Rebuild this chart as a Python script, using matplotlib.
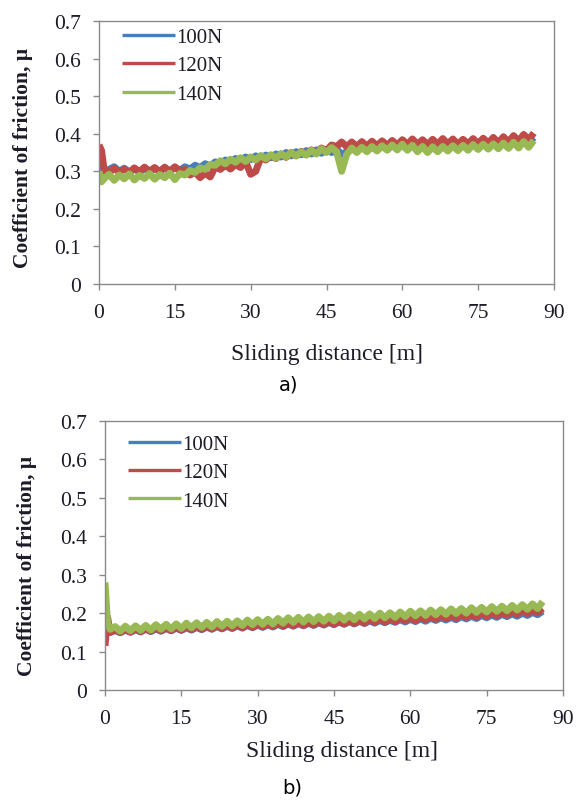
import numpy as np
import matplotlib
matplotlib.use("Agg")
import matplotlib.pyplot as plt

# ---------------- data ----------------
dist = [0, 0.5] + list(range(1, 87))  # sliding distance samples [m]

labels = ["100N", "120N", "140N"]
colors = ["#4a7ebb", "#be4b48", "#98b954"]

# panel a)
a_100 = [0.335, 0.300, 0.300, 0.305, 0.312, 0.300, 0.308, 0.298, 0.306, 0.298,
         0.307, 0.299, 0.306, 0.300, 0.308, 0.301, 0.309, 0.303, 0.312, 0.306,
         0.316, 0.310, 0.320, 0.314, 0.325, 0.320, 0.330, 0.324, 0.334, 0.328,
         0.338, 0.331, 0.341, 0.334, 0.343, 0.336, 0.346, 0.338, 0.350, 0.341,
         0.352, 0.344, 0.355, 0.346, 0.357, 0.348, 0.358, 0.350, 0.360, 0.345,
         0.352, 0.362, 0.354, 0.364, 0.355, 0.365, 0.356, 0.367, 0.358, 0.369,
         0.359, 0.371, 0.360, 0.372, 0.361, 0.373, 0.362, 0.374, 0.363, 0.376,
         0.364, 0.377, 0.366, 0.379, 0.367, 0.380, 0.368, 0.382, 0.370, 0.383,
         0.371, 0.385, 0.372, 0.386, 0.373, 0.388, 0.375, 0.390]
a_120 = [0.370, 0.355, 0.305, 0.296, 0.308, 0.298, 0.306, 0.297, 0.309, 0.299,
         0.311, 0.300, 0.310, 0.299, 0.311, 0.300, 0.312, 0.301, 0.305, 0.290,
         0.298, 0.283, 0.295, 0.285, 0.312, 0.305, 0.316, 0.306, 0.318, 0.310,
         0.326, 0.292, 0.300, 0.336, 0.330, 0.342, 0.334, 0.346, 0.337, 0.350,
         0.341, 0.353, 0.344, 0.357, 0.348, 0.362, 0.355, 0.370, 0.366, 0.378,
         0.365, 0.378, 0.366, 0.379, 0.367, 0.380, 0.368, 0.381, 0.369, 0.382,
         0.370, 0.384, 0.372, 0.386, 0.372, 0.384, 0.371, 0.385, 0.372, 0.387,
         0.373, 0.386, 0.372, 0.385, 0.373, 0.387, 0.374, 0.388, 0.375, 0.390,
         0.376, 0.392, 0.378, 0.395, 0.380, 0.398, 0.384, 0.402]
a_140 = [0.300, 0.272, 0.280, 0.292, 0.276, 0.290, 0.280, 0.293, 0.277, 0.289,
         0.281, 0.294, 0.279, 0.291, 0.283, 0.295, 0.278, 0.294, 0.290, 0.302,
         0.297, 0.309, 0.305, 0.318, 0.316, 0.328, 0.320, 0.332, 0.324, 0.336,
         0.326, 0.338, 0.330, 0.342, 0.333, 0.344, 0.335, 0.347, 0.338, 0.350,
         0.341, 0.352, 0.343, 0.356, 0.346, 0.360, 0.350, 0.363, 0.352, 0.300,
         0.345, 0.362, 0.350, 0.364, 0.352, 0.366, 0.354, 0.368, 0.356, 0.370,
         0.357, 0.372, 0.356, 0.369, 0.352, 0.366, 0.350, 0.365, 0.352, 0.366,
         0.354, 0.368, 0.355, 0.369, 0.356, 0.371, 0.358, 0.372, 0.359, 0.373,
         0.360, 0.375, 0.361, 0.377, 0.362, 0.379, 0.364, 0.382]

# panel b)
b_100 = [0.140, 0.165, 0.150, 0.155, 0.149, 0.156, 0.150, 0.157, 0.151, 0.158,
         0.152, 0.159, 0.153, 0.160, 0.154, 0.161, 0.155, 0.162, 0.156, 0.163,
         0.157, 0.164, 0.158, 0.165, 0.159, 0.166, 0.160, 0.167, 0.161, 0.168,
         0.162, 0.169, 0.163, 0.170, 0.164, 0.171, 0.165, 0.172, 0.166, 0.173,
         0.167, 0.174, 0.168, 0.175, 0.169, 0.176, 0.170, 0.177, 0.171, 0.178,
         0.172, 0.179, 0.173, 0.180, 0.174, 0.181, 0.175, 0.182, 0.176, 0.183,
         0.177, 0.184, 0.178, 0.185, 0.179, 0.187, 0.181, 0.188, 0.182, 0.189,
         0.183, 0.191, 0.185, 0.192, 0.186, 0.194, 0.188, 0.195, 0.189, 0.197,
         0.191, 0.198, 0.192, 0.200, 0.194, 0.202, 0.196, 0.205]
b_120 = [0.115, 0.190, 0.150, 0.156, 0.150, 0.158, 0.151, 0.159, 0.152, 0.160,
         0.153, 0.161, 0.154, 0.162, 0.155, 0.163, 0.156, 0.164, 0.157, 0.165,
         0.158, 0.166, 0.159, 0.167, 0.160, 0.168, 0.161, 0.169, 0.162, 0.170,
         0.163, 0.171, 0.164, 0.172, 0.165, 0.173, 0.166, 0.174, 0.167, 0.175,
         0.168, 0.176, 0.169, 0.177, 0.170, 0.178, 0.171, 0.179, 0.172, 0.180,
         0.173, 0.181, 0.174, 0.183, 0.176, 0.184, 0.177, 0.185, 0.178, 0.187,
         0.180, 0.188, 0.181, 0.190, 0.183, 0.191, 0.184, 0.193, 0.186, 0.194,
         0.187, 0.196, 0.189, 0.197, 0.190, 0.199, 0.192, 0.200, 0.193, 0.202,
         0.195, 0.204, 0.197, 0.206, 0.199, 0.208, 0.201, 0.212]
b_140 = [0.280, 0.175, 0.158, 0.165, 0.153, 0.166, 0.154, 0.167, 0.155, 0.168,
         0.156, 0.170, 0.158, 0.171, 0.159, 0.172, 0.160, 0.174, 0.162, 0.175,
         0.163, 0.176, 0.164, 0.178, 0.166, 0.179, 0.167, 0.180, 0.168, 0.182,
         0.170, 0.183, 0.171, 0.184, 0.172, 0.186, 0.174, 0.188, 0.176, 0.189,
         0.177, 0.190, 0.178, 0.191, 0.179, 0.192, 0.180, 0.194, 0.182, 0.195,
         0.183, 0.197, 0.185, 0.198, 0.186, 0.200, 0.188, 0.201, 0.189, 0.203,
         0.191, 0.205, 0.193, 0.206, 0.194, 0.208, 0.196, 0.209, 0.197, 0.211,
         0.199, 0.212, 0.200, 0.214, 0.202, 0.215, 0.203, 0.217, 0.205, 0.218,
         0.206, 0.220, 0.208, 0.222, 0.210, 0.224, 0.212, 0.230]

x_ticks = [0, 15, 30, 45, 60, 75, 90]
y_ticks = [0, 0.1, 0.2, 0.3, 0.4, 0.5, 0.6, 0.7]
y_ticklabels = ["0", "0.1", "0.2", "0.3", "0.4", "0.5", "0.6", "0.7"]
x_label = "Sliding distance [m]"
y_label = "Coefficient of friction, \u03bc"

# ---------------- figure ----------------
W, H = 577, 803
fig = plt.figure(figsize=(W / 100, H / 100), dpi=100)
fig.patch.set_facecolor("white")

serif = ["Liberation Serif", "DejaVu Serif"]
txt_col = "#1c1c28"
spine_col = "#8a8a8a"


def px_rect(l, t, r, b):
    return [l / W, 1 - b / H, (r - l) / W, (b - t) / H]


def style_axes(ax, series, legend_anchor):
    for s, lab, c in zip(series, labels, colors):
        ax.plot(dist, s, color=c, lw=5.0, label=lab, solid_joinstyle="round",
                solid_capstyle="butt")
    ax.set_xlim(0, 90)
    ax.set_ylim(0, 0.7)
    ax.set_xticks(x_ticks)
    ax.set_yticks(y_ticks)
    ax.set_yticklabels(y_ticklabels)
    for sp in ax.spines.values():
        sp.set_color(spine_col)
        sp.set_linewidth(1.0)
    ax.tick_params(axis="both", direction="out", length=4, width=1.0,
                   color=spine_col, labelcolor=txt_col, labelsize=15.5)
    ax.tick_params(axis="x", pad=10)
    ax.tick_params(axis="y", pad=9)
    for t in ax.get_xticklabels() + ax.get_yticklabels():
        t.set_family(serif)
    leg = ax.legend(loc="upper left", bbox_to_anchor=legend_anchor,
                    frameon=False, handlelength=2.55, handletextpad=0.05,
                    labelspacing=0.42, borderpad=0, borderaxespad=0,
                    prop={"family": serif, "size": 15})
    for t in leg.get_texts():
        t.set_color(txt_col)
    for h in leg.get_lines():
        h.set_linewidth(2.4)


ax_a = fig.add_axes(px_rect(99, 22, 554, 285))
style_axes(ax_a, [a_100, a_120, a_140], (0.05, 0.975))

ax_b = fig.add_axes(px_rect(105, 422, 563, 691))
style_axes(ax_b, [b_100, b_120, b_140], (0.05, 0.95))

# axis titles
fig.text(327 / W, 1 - 355 / H, x_label, ha="center", va="center",
         family=serif, fontsize=17, color=txt_col)
fig.text(342 / W, 1 - 752 / H, x_label, ha="center", va="center",
         family=serif, fontsize=17, color=txt_col)
fig.text(23 / W, 1 - 158 / H, y_label, ha="center", va="center",
         rotation=90, family=serif, fontsize=15.5, fontweight="bold",
         color=txt_col)
fig.text(27 / W, 1 - 566 / H, y_label, ha="center", va="center",
         rotation=90, family=serif, fontsize=15.5, fontweight="bold",
         color=txt_col)

# panel captions
fig.text(289 / W, 1 - 385 / H, "a)", ha="center", va="center",
         family=["DejaVu Sans"], fontsize=14, color="black")
fig.text(292 / W, 1 - 788 / H, "b)", ha="center", va="center",
         family=["DejaVu Sans"], fontsize=14, color="black")

fig.savefig("out.png", dpi=100, facecolor="white")
